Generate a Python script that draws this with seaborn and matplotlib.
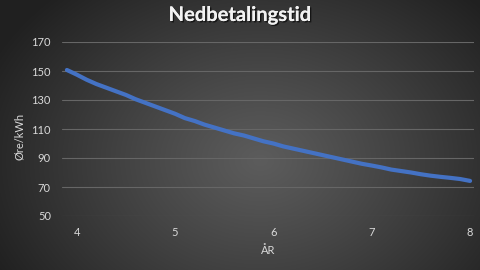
import numpy as np
import pandas as pd
import matplotlib
matplotlib.use("Agg")
import matplotlib.pyplot as plt
import matplotlib.patheffects as pe
import seaborn as sns

# Data
years = [3.9, 4.0, 4.1, 4.2, 4.3, 4.4, 4.5, 4.6, 4.7, 4.8, 4.9, 5.0, 5.1, 5.2, 5.3, 5.4,
         5.5, 5.6, 5.7, 5.8, 5.9, 6.0, 6.1, 6.2, 6.3, 6.4, 6.5, 6.6, 6.7, 6.8, 6.9, 7.0,
         7.1, 7.2, 7.3, 7.4, 7.5, 7.6, 7.7, 7.8, 7.9, 8.0]
ore_kwh = [150.7, 147.5, 144.0, 141.0, 138.5, 136.0, 133.5, 130.5, 128.0, 125.5, 123.0, 120.5,
           117.5, 115.5, 113.0, 111.0, 109.0, 107.0, 105.5, 103.5, 101.5, 100.0, 98.0, 96.5,
           95.0, 93.5, 92.0, 90.5, 89.0, 87.5, 86.0, 84.8, 83.5, 82.0, 81.0, 80.0, 78.8,
           77.8, 77.0, 76.3, 75.5, 74.2]
y_ticks = [50, 70, 90, 110, 130, 150, 170]
x_ticks = [4, 5, 6, 7, 8]
title = "Nedbetalingstid"
ylabel = "Øre/kWh"
xlabel = "ÅR"

df = pd.DataFrame({"År": years, "Øre/kWh": ore_kwh})

sns.set_style("dark")
plt.rcParams["font.family"] = ["Lato", "DejaVu Sans"]

fig = plt.figure(figsize=(4.8, 2.7), dpi=100)

# Radial gradient background
bg = fig.add_axes([0, 0, 1, 1], zorder=-10)
H, W = 270, 480
yy, xx = np.mgrid[0:H, 0:W]
r = np.sqrt(((xx - 260) / 300.0) ** 2 + ((yy - 160) / 230.0) ** 2)
r = np.clip(r, 0, 1)
val = (92 - (92 - 32) * r ** 1.1) / 255.0
img = np.dstack([val, val, val])
bg.imshow(img, aspect="auto", extent=[0, 1, 0, 1], origin="upper")
bg.set_axis_off()

ax = fig.add_axes([62 / 480, 1 - 216 / 270, (474 - 62) / 480, (216 - 42) / 270])
ax.set_facecolor("none")

sns.lineplot(data=df, x="År", y="Øre/kWh", ax=ax, color="#4472C4", linewidth=3.0,
             solid_capstyle="round")

ax.set_xlim(3.85, 8.04)
ax.set_ylim(50, 170)
ax.set_yticks(y_ticks)
ax.set_xticks(x_ticks)
ax.grid(False)
ax.yaxis.grid(True, color="#666666", linewidth=0.8)
ax.set_axisbelow(True)
for s in ax.spines.values():
    s.set_visible(False)
ax.tick_params(axis="both", length=0, colors="#d9d9d9", labelsize=8)
ax.tick_params(axis="y", pad=8)
ax.tick_params(axis="x", pad=8)

ax.set_xlabel("")
ax.set_ylabel("")
fig.text(20 / 480, 1 - 136 / 270, ylabel, rotation=90, ha="center", va="center",
         color="#d9d9d9", fontsize=8)
fig.text(268 / 480, 1 - 250 / 270, xlabel, ha="center", va="center",
         color="#d9d9d9", fontsize=8)
fig.text(240 / 480, 1 - 15 / 270, title, ha="center", va="center", color="#f2f2f2",
         fontsize=14.5, fontweight="bold",
         path_effects=[pe.withSimplePatchShadow(offset=(1, -1), shadow_rgbFace="black", alpha=0.6),
                       pe.Normal()])

fig.savefig("out.png", dpi=100)
